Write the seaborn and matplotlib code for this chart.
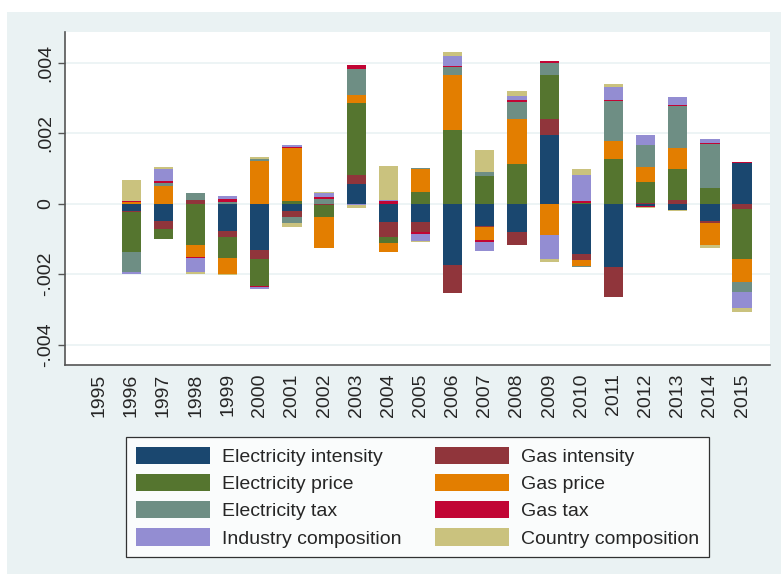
import matplotlib
matplotlib.use("Agg")
import matplotlib.pyplot as plt
from matplotlib.patches import Patch, Rectangle
import numpy as np
import pandas as pd
import seaborn as sns

sns.set_theme(style="white")
plt.rcParams["font.family"] = ["Liberation Sans", "DejaVu Sans"]

years = [str(y) for y in range(1995, 2016)]

components = ["Electricity intensity", "Gas intensity", "Electricity price", "Gas price",
              "Electricity tax", "Gas tax", "Industry composition", "Country composition"]
colors = ["#1a476f", "#90353b", "#55752f", "#e37e00",
          "#6e8e84", "#c10534", "#938dd2", "#cac27e"]

# values in thousandths (x 0.001), one entry per year 1995..2015
elec_intensity = [0, -0.20, -0.48, 0, -0.79, -1.33, -0.22, 0, 0.57, -0.53, -0.53,
                  -1.73, -0.64, -0.80, 1.96, -1.43, -1.79, -0.07, -0.19, -0.50, 1.14]
gas_intensity = [0, -0.03, -0.23, 0.11, -0.15, -0.24, -0.15, -0.03, 0.24, -0.41, -0.28,
                 -0.82, -0.03, -0.37, 0.44, -0.17, -0.87, 0.02, 0.10, -0.05, -0.14]
elec_price = [0, -1.13, -0.29, -1.17, -0.60, -0.76, 0.08, -0.34, 2.05, -0.19, 0.32,
              2.08, 0.78, 1.12, 1.24, 0.03, 1.26, 0.58, 0.88, 0.43, -1.42]
gas_price = [0, 0.05, 0.51, -0.34, -0.45, 1.20, 1.50, -0.90, 0.23, -0.24, 0.66,
             1.57, -0.36, 1.29, -0.89, -0.16, 0.53, 0.43, 0.61, -0.63, -0.67]
elec_tax = [0, -0.58, 0.08, 0.18, 0.04, 0.08, -0.18, 0.14, 0.73, 0, 0.04,
            0.23, 0.12, 0.47, 0.35, -0.05, 1.12, 0.62, 1.17, 1.25, -0.28]
gas_tax = [0, 0.03, 0.04, -0.03, 0.09, -0.03, 0.03, 0.04, 0.11, 0.07, -0.05,
           0.03, -0.07, 0.06, 0.05, 0.05, 0.04, -0.02, 0.05, 0.05, 0.05]
industry_comp = [0, -0.05, 0.36, -0.40, 0.08, -0.05, 0.04, 0.12, -0.05, 0.03, -0.19,
                 0.27, -0.24, 0.10, -0.68, 0.73, 0.36, 0.29, 0.21, 0.09, -0.44]
country_comp = [0, 0.60, 0.06, -0.05, -0.04, 0.05, -0.10, 0.04, -0.08, 0.98, -0.04,
                0.13, 0.63, 0.15, -0.09, 0.18, 0.08, -0.03, -0.03, -0.07, -0.12]

series = [elec_intensity, gas_intensity, elec_price, gas_price,
          elec_tax, gas_tax, industry_comp, country_comp]

vals = np.array(series) * 0.001
pos = np.cumsum(np.clip(vals, 0, None), axis=0)
neg = np.cumsum(np.clip(vals, None, 0), axis=0)

fig = plt.figure(figsize=(7.81, 5.74), dpi=100, facecolor="white")
fig.patches.append(Rectangle((7 / 781, 0), 1, 1 - 12 / 574, transform=fig.transFigure,
                             facecolor="#eaf2f3", edgecolor="none", zorder=-10))
ax = fig.add_axes([65 / 781, 1 - 365 / 574, 705 / 781, 333 / 574])
ax.set_facecolor("white")

# stacked bars: draw cumulative totals from the last component to the first
for k in range(len(components) - 1, -1, -1):
    for stack in (pos, neg):
        df = pd.DataFrame({"year": years, "value": stack[k]})
        sns.barplot(data=df, x="year", y="value", color=colors[k], saturation=1,
                    width=0.6, linewidth=0, errorbar=None, ax=ax, zorder=3)

ax.set_xlim(-1.06, 20.87)
ax.set_ylim(-0.00458, 0.00487)
yt = [-0.004, -0.002, 0, 0.002, 0.004]
ax.set_yticks(yt)
ax.set_yticklabels(["-.004", "-.002", "0", ".002", ".004"], rotation=90, va="center",
                   fontsize=14)
ax.set_xticks(range(len(years)))
ax.set_xticklabels(years, rotation=90, fontsize=14)
ax.tick_params(axis="y", length=5, width=1, color="#555555", pad=3, left=True)
ax.tick_params(axis="x", length=0, pad=6)
ax.grid(axis="y", color="#eaf2f3", linewidth=1.2, zorder=0)
ax.set_axisbelow(True)
ax.set_xlabel("")
ax.set_ylabel("")
for side in ("top", "right"):
    ax.spines[side].set_visible(False)
for side in ("left", "bottom"):
    ax.spines[side].set_color("#555555")
    ax.spines[side].set_linewidth(1.2)

order = [0, 2, 4, 6, 1, 3, 5, 7]
handles = [Patch(facecolor=colors[i], edgecolor="none") for i in order]
labels = [components[i] for i in order]
leg = fig.legend(handles, labels, ncol=2, loc="upper center",
                 bbox_to_anchor=(417.5 / 781, 1 - 437 / 574), fontsize=14,
                 frameon=True, fancybox=False, edgecolor="black", borderaxespad=0,
                 handlelength=3.8, handleheight=1.0, handletextpad=0.6,
                 columnspacing=1.75, labelspacing=0.4, borderpad=0.5)
leg.get_frame().set_linewidth(0.9)
leg.get_frame().set_facecolor("white")

fig.savefig("out.png", dpi=100, facecolor="white")
